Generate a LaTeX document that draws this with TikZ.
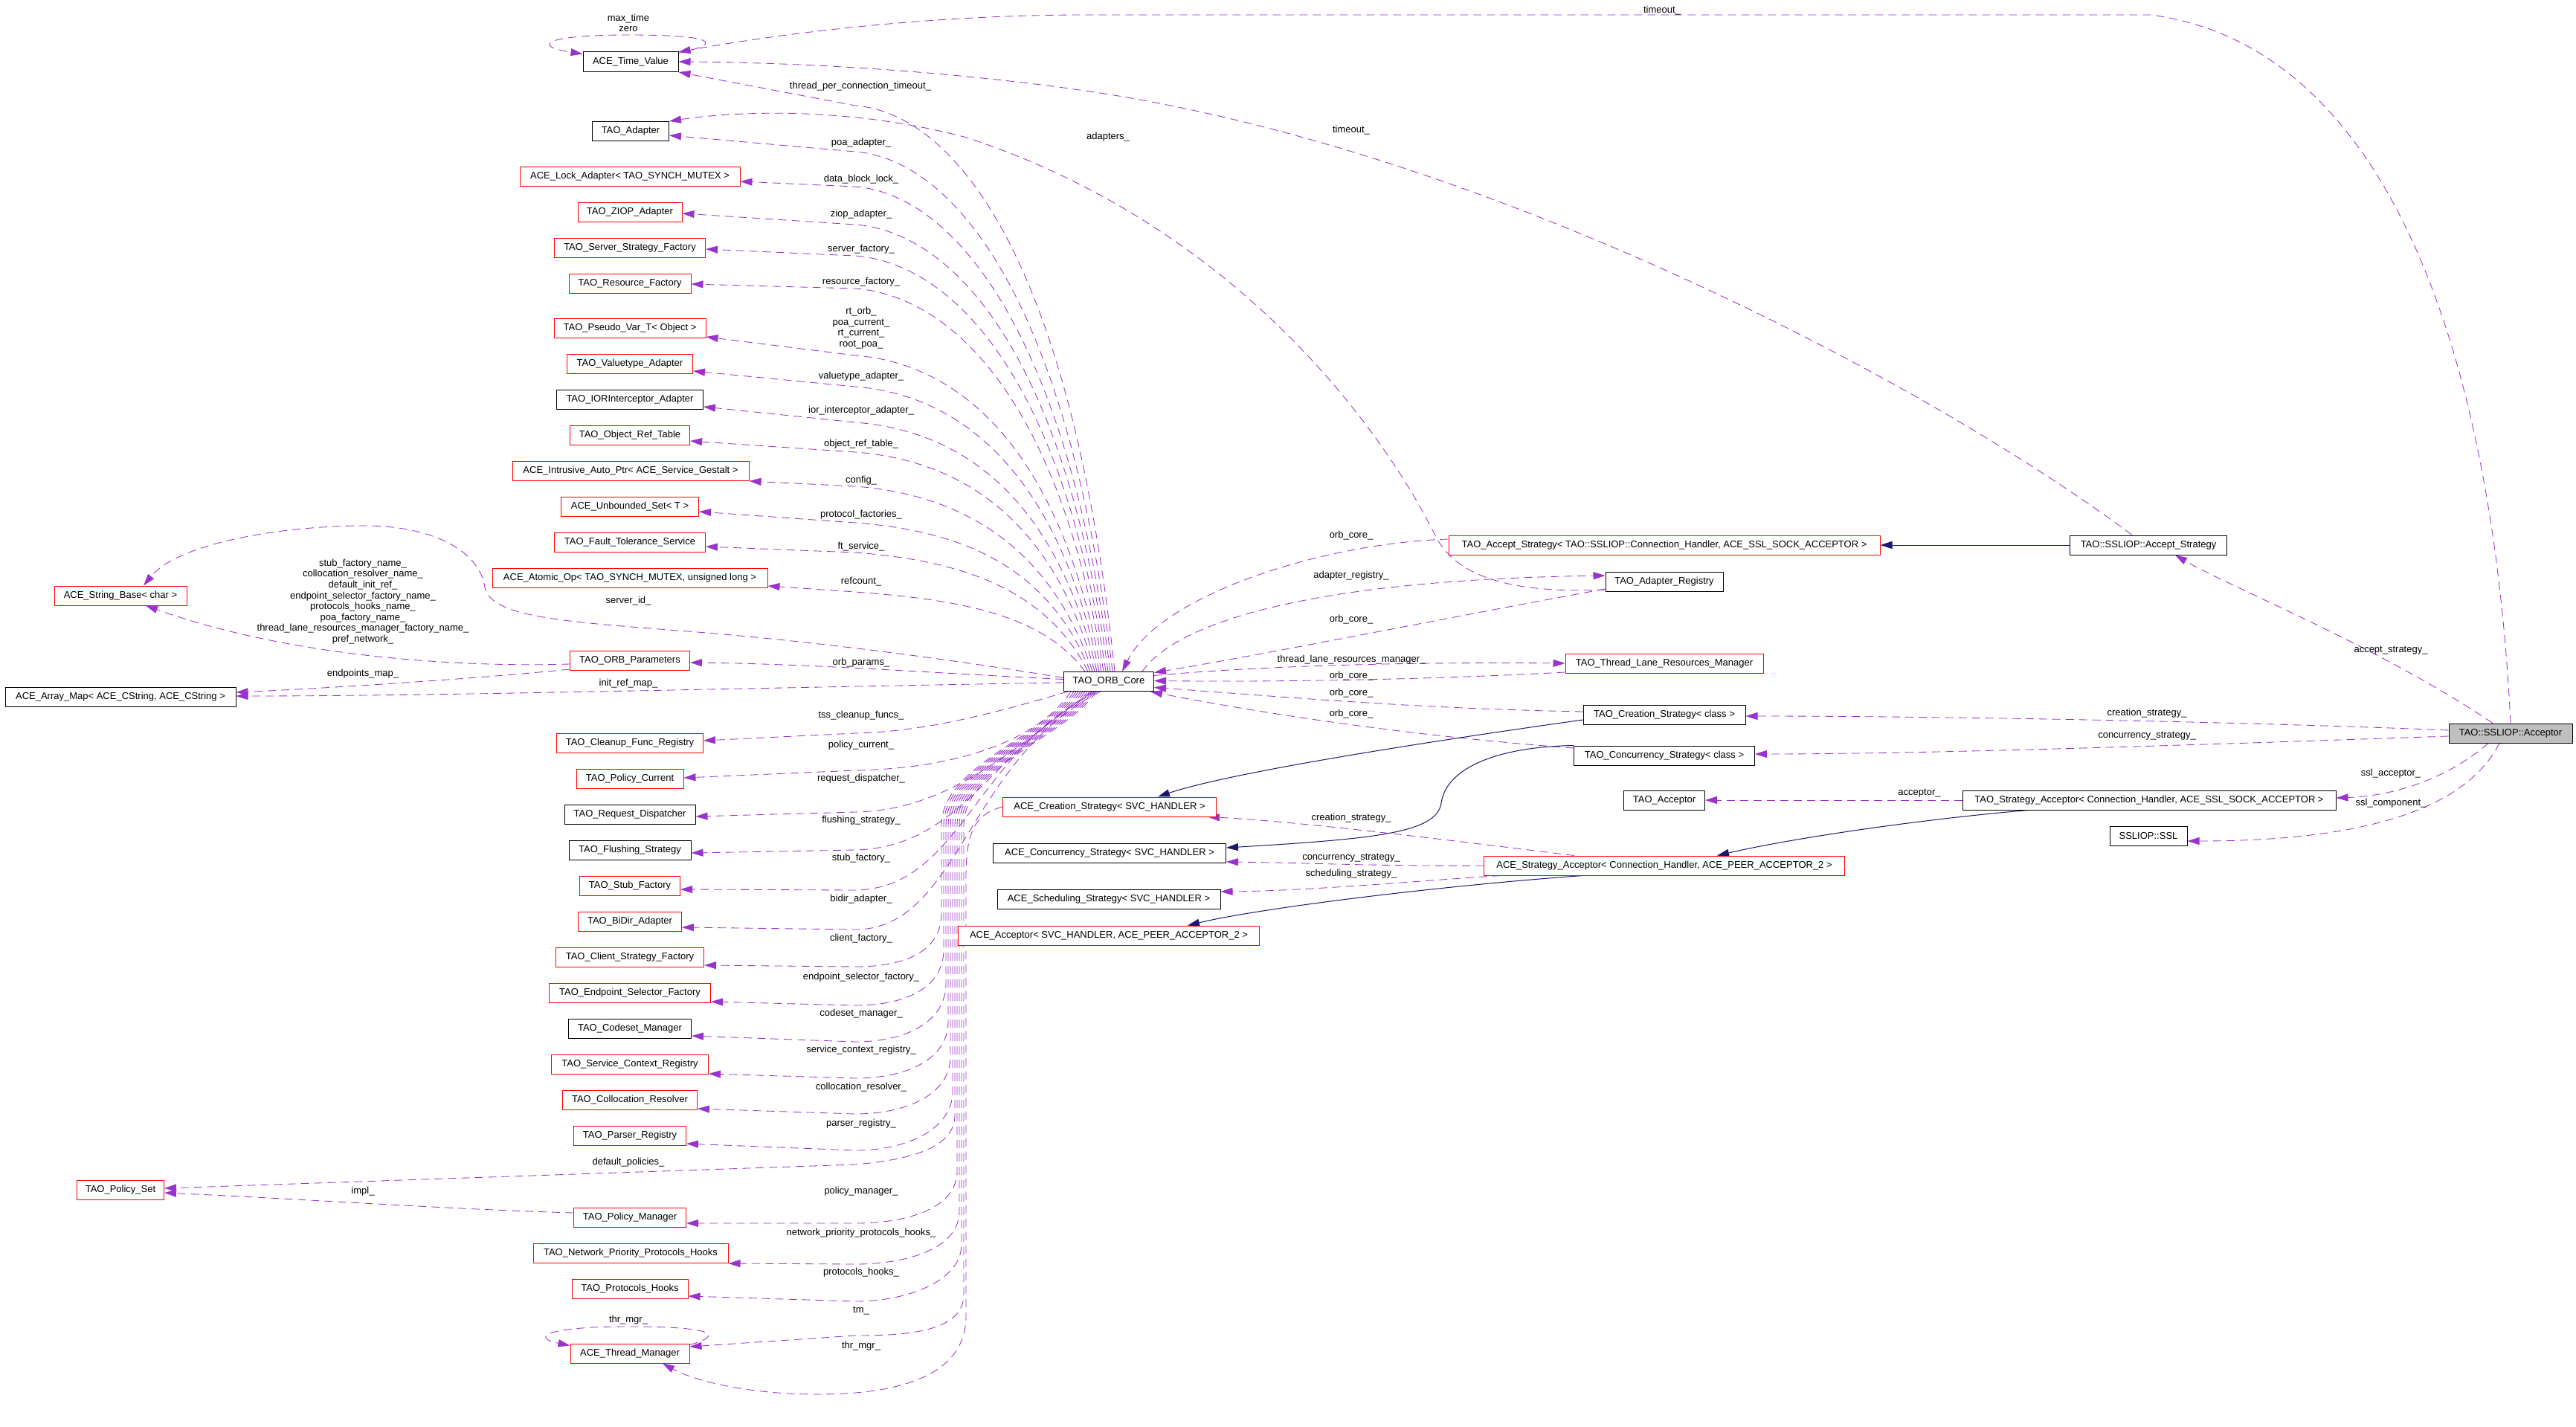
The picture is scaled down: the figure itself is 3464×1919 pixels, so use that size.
\documentclass[tikz,border=0pt]{standalone}
\usepackage{fontspec}
\setmainfont{Liberation Sans}
\usetikzlibrary{arrows.meta,backgrounds}
\definecolor{purp}{HTML}{9A32CD}
\definecolor{navyb}{HTML}{191970}
\definecolor{greyf}{HTML}{BFBFBF}
\newcommand\dxfont{\fontsize{13}{14.6}\selectfont}
% upper edges: target, arrow y, yshift, xshift on orb, offset at x=1150
\newcommand\dxUp[5]{\draw[mem] ([xshift=#4pt]orb.north west) .. controls ({1371+#4},{#2+0.3*(904-#2)}) and (1280,{#2+#5+10}) .. (1150,{#2+#5}) -- ([yshift=#3pt]#1.east);}
% lower edges: target, arrow y, yshift, xshift on orb, bundle x, offset at x=1150
\newcommand\dxLo[6]{\draw[mem] ([xshift=#4pt]orb.south west) .. controls ({1391+#4},990) and (#5,1030) .. (#5,1110) -- (#5,{#2-70}) .. controls (#5,{#2-20}) and (1220,{#2+#6}) .. (1150,{#2+#6}) -- ([yshift=#3pt]#1.east);}
\begin{document}
\begin{tikzpicture}[x=1pt,y=-1pt,
  cls/.style={draw=red, line width=1pt, minimum height=26pt, inner sep=0pt, font=\dxfont, fill=white},
  blk/.style={cls, draw=black},
  mainc/.style={cls, draw=black, fill=greyf},
  mem/.style={draw=purp, dash pattern=on 11pt off 7pt, line width=0.85pt, -{Triangle[length=16pt,width=10pt]}},
  inh/.style={draw=navyb, line width=1pt, -{Triangle[length=16pt,width=10pt]}},
  lbl/.style={font=\dxfont, inner sep=0pt, align=center}]
\useasboundingbox (0,0) rectangle (3464,1919);
% left column
\node[blk, minimum width=128pt] (tv) at (848,83) {ACE\_Time\_Value};
\node[blk, minimum width=103pt] (adp) at (848,176) {TAO\_Adapter};
\node[cls, minimum width=296pt] (lock) at (847,237) {ACE\_Lock\_Adapter< TAO\_SYNCH\_MUTEX >};
\node[cls, minimum width=140pt] (ziop) at (847,285) {TAO\_ZIOP\_Adapter};
\node[cls, minimum width=203pt] (ssf) at (847,333) {TAO\_Server\_Strategy\_Factory};
\node[cls, minimum width=164pt] (rf) at (847,381) {TAO\_Resource\_Factory};
\node[cls, minimum width=204pt] (pv) at (847,441) {TAO\_Pseudo\_Var\_T< Object >};
\node[cls, minimum width=169pt] (vta) at (847,489) {TAO\_Valuetype\_Adapter};
\node[blk, minimum width=197pt] (iori) at (847,537) {TAO\_IORInterceptor\_Adapter};
\node[cls, minimum width=161pt] (ort) at (847,585) {TAO\_Object\_Ref\_Table};
\node[cls, minimum width=318pt] (iap) at (848,633) {ACE\_Intrusive\_Auto\_Ptr< ACE\_Service\_Gestalt >};
\node[cls, minimum width=185pt] (us) at (847,681) {ACE\_Unbounded\_Set< T >};
\node[cls, minimum width=203pt] (fts) at (847,729) {TAO\_Fault\_Tolerance\_Service};
\node[cls, minimum width=370pt] (ao) at (847,777) {ACE\_Atomic\_Op< TAO\_SYNCH\_MUTEX, unsigned long >};
\node[cls, minimum width=178pt] (sb) at (162,801) {ACE\_String\_Base< char >};
\node[cls, minimum width=161pt] (op) at (847,888) {TAO\_ORB\_Parameters};
\node[blk, minimum width=310pt] (am) at (162,937) {ACE\_Array\_Map< ACE\_CString, ACE\_CString >};
\node[cls, minimum width=197pt] (cfr) at (847,999) {TAO\_Cleanup\_Func\_Registry};
\node[cls, minimum width=144pt] (pc) at (847,1047) {TAO\_Policy\_Current};
\node[blk, minimum width=176pt] (rd) at (847,1095) {TAO\_Request\_Dispatcher};
\node[blk, minimum width=164pt] (fs) at (847,1143) {TAO\_Flushing\_Strategy};
\node[cls, minimum width=135pt] (sf) at (847,1191) {TAO\_Stub\_Factory};
\node[cls, minimum width=139pt] (bda) at (847,1239) {TAO\_BiDir\_Adapter};
\node[cls, minimum width=199pt] (csf) at (847,1287) {TAO\_Client\_Strategy\_Factory};
\node[cls, minimum width=217pt] (esf) at (847,1335) {TAO\_Endpoint\_Selector\_Factory};
\node[blk, minimum width=165pt] (cm) at (847,1383) {TAO\_Codeset\_Manager};
\node[cls, minimum width=211pt] (scr) at (847,1431) {TAO\_Service\_Context\_Registry};
\node[cls, minimum width=181pt] (cr) at (847,1479) {TAO\_Collocation\_Resolver};
\node[cls, minimum width=151pt] (pr) at (847,1527) {TAO\_Parser\_Registry};
\node[cls, minimum width=117pt] (ps) at (162,1600) {TAO\_Policy\_Set};
\node[cls, minimum width=151pt] (pm) at (847,1637) {TAO\_Policy\_Manager};
\node[cls, minimum width=262pt] (npph) at (848,1685) {TAO\_Network\_Priority\_Protocols\_Hooks};
\node[cls, minimum width=156pt] (ph) at (847,1733) {TAO\_Protocols\_Hooks};
\node[cls, minimum width=160pt] (tm) at (847,1820) {ACE\_Thread\_Manager};
% middle
\node[blk, minimum width=121pt] (orb) at (1491,916.5) {TAO\_ORB\_Core};
\node[cls, minimum width=287pt] (acs) at (1492,1085) {ACE\_Creation\_Strategy< SVC\_HANDLER >};
\node[blk, minimum width=313pt] (accs) at (1492,1147) {ACE\_Concurrency\_Strategy< SVC\_HANDLER >};
\node[blk, minimum width=300pt] (ass) at (1491,1209) {ACE\_Scheduling\_Strategy< SVC\_HANDLER >};
\node[cls, minimum width=405pt] (aa) at (1491,1258) {ACE\_Acceptor< SVC\_HANDLER, ACE\_PEER\_ACCEPTOR\_2 >};
% right middle
\node[cls, minimum width=580pt] (tas) at (2238,733) {TAO\_Accept\_Strategy< TAO::SSLIOP::Connection\_Handler, ACE\_SSL\_SOCK\_ACCEPTOR >};
\node[blk, minimum width=158pt] (ar) at (2238,782) {TAO\_Adapter\_Registry};
\node[cls, minimum width=266pt] (tlrm) at (2238,892) {TAO\_Thread\_Lane\_Resources\_Manager};
\node[blk, minimum width=218pt] (tcs) at (2238,961) {TAO\_Creation\_Strategy< class >};
\node[blk, minimum width=243pt] (tccs) at (2238,1016) {TAO\_Concurrency\_Strategy< class >};
\node[blk, minimum width=109pt] (tacc) at (2238,1076) {TAO\_Acceptor};
\node[cls, minimum width=485pt] (asa) at (2238,1164) {ACE\_Strategy\_Acceptor< Connection\_Handler, ACE\_PEER\_ACCEPTOR\_2 >};
% right
\node[blk, minimum width=211pt] (sas) at (2889,733) {TAO::SSLIOP::Accept\_Strategy};
\node[blk, minimum width=502pt] (tsa) at (2890,1076) {TAO\_Strategy\_Acceptor< Connection\_Handler, ACE\_SSL\_SOCK\_ACCEPTOR >};
\node[blk, minimum width=104pt] (ssl) at (2889,1124) {SSLIOP::SSL};
\node[mainc, minimum width=166pt] (acc) at (3376,986) {TAO::SSLIOP::Acceptor};
% labels
\node[lbl] (l1) at (845,31) {max\_time\\zero};
\node[lbl] (l2) at (1157,116) {thread\_per\_connection\_timeout\_};
\node[lbl] (l3) at (1158,192) {poa\_adapter\_};
\node[lbl] (l4) at (1158,241) {data\_block\_lock\_};
\node[lbl] (l5) at (1158,288) {ziop\_adapter\_};
\node[lbl] (l6) at (1158,335) {server\_factory\_};
\node[lbl] (l7) at (1158,379) {resource\_factory\_};
\node[lbl] (l8) at (1158,441) {rt\_orb\_\\poa\_current\_\\rt\_current\_\\root\_poa\_};
\node[lbl] (l9) at (1158,506) {valuetype\_adapter\_};
\node[lbl] (l10) at (1158,552) {ior\_interceptor\_adapter\_};
\node[lbl] (l11) at (1158,597) {object\_ref\_table\_};
\node[lbl] (l12) at (1158,646) {config\_};
\node[lbl] (l13) at (1158,692) {protocol\_factories\_};
\node[lbl] (l14) at (1158,735) {ft\_service\_};
\node[lbl] (l15) at (1158,782) {refcount\_};
\node[lbl] (l16) at (845,808) {server\_id\_};
\node[lbl] (l17) at (488,809) {stub\_factory\_name\_\\collocation\_resolver\_name\_\\default\_init\_ref\_\\endpoint\_selector\_factory\_name\_\\protocols\_hooks\_name\_\\poa\_factory\_name\_\\thread\_lane\_resources\_manager\_factory\_name\_\\pref\_network\_};
\node[lbl] (l18) at (1158,891) {orb\_params\_};
\node[lbl] (l19) at (488,906) {endpoints\_map\_};
\node[lbl] (l20) at (845,919) {init\_ref\_map\_};
\node[lbl] (l21) at (1158,962) {tss\_cleanup\_funcs\_};
\node[lbl] (l22) at (1158,1002) {policy\_current\_};
\node[lbl] (l23) at (1158,1047) {request\_dispatcher\_};
\node[lbl] (l24) at (1158,1103) {flushing\_strategy\_};
\node[lbl] (l25) at (1158,1154) {stub\_factory\_};
\node[lbl] (l26) at (1158,1209) {bidir\_adapter\_};
\node[lbl] (l27) at (1158,1262) {client\_factory\_};
\node[lbl] (l28) at (1158,1314) {endpoint\_selector\_factory\_};
\node[lbl] (l29) at (1158,1363) {codeset\_manager\_};
\node[lbl] (l30) at (1158,1412) {service\_context\_registry\_};
\node[lbl] (l31) at (1158,1462) {collocation\_resolver\_};
\node[lbl] (l32) at (1158,1511) {parser\_registry\_};
\node[lbl] (l33) at (845,1563) {default\_policies\_};
\node[lbl] (l34) at (488,1602) {impl\_};
\node[lbl] (l35) at (1158,1602) {policy\_manager\_};
\node[lbl] (l36) at (1158,1658) {network\_priority\_protocols\_hooks\_};
\node[lbl] (l37) at (1158,1711) {protocols\_hooks\_};
\node[lbl] (l38) at (845,1775) {thr\_mgr\_};
\node[lbl] (l39) at (1158,1763) {tm\_};
\node[lbl] (l40) at (1158,1810) {thr\_mgr\_};
\node[lbl] (l41) at (1490,184) {adapters\_};
\node[lbl] (l42) at (1817,175) {timeout\_};
\node[lbl] (l43) at (2235,14) {timeout\_};
\node[lbl] (l44) at (1817,720) {orb\_core\_};
\node[lbl] (l45) at (1817,774) {adapter\_registry\_};
\node[lbl] (l46) at (1817,833) {orb\_core\_};
\node[lbl] (l47) at (1817,887) {thread\_lane\_resources\_manager\_};
\node[lbl] (l48) at (1817,909) {orb\_core\_};
\node[lbl] (l49) at (1817,932) {orb\_core\_};
\node[lbl] (l50) at (1817,960) {orb\_core\_};
\node[lbl] (l51) at (1817,1100) {creation\_strategy\_};
\node[lbl] (l52) at (1817,1154) {concurrency\_strategy\_};
\node[lbl] (l53) at (1817,1175) {scheduling\_strategy\_};
\node[lbl] (l54) at (3215,875) {accept\_strategy\_};
\node[lbl] (l55) at (2887,959) {creation\_strategy\_};
\node[lbl] (l56) at (2887,990) {concurrency\_strategy\_};
\node[lbl] (l57) at (3215,1040) {ssl\_acceptor\_};
\node[lbl] (l58) at (3215,1080) {ssl\_component\_};
\node[lbl] (l59) at (2581,1067) {acceptor\_};
\begin{scope}[on background layer]
\fill[white] (0,0) rectangle (3464,1919);
% self loops
\draw[mem] ([yshift=-2pt]tv.north east) .. controls (975,58) and (960,47) .. (845,47) .. controls (730,47) and (715,62) .. ([yshift=-3pt]tv.north west);
\draw[mem] ([yshift=-2pt]tm.north east) .. controls (975,1795) and (960,1784) .. (845,1784) .. controls (730,1784) and (715,1799) .. ([yshift=-3pt]tm.north west);
% upper-left members of ORB core
\dxUp{tv}{97}{-14}{69}{45}
\dxUp{adp}{182}{-6}{66}{22}
\dxUp{lock}{244}{-7}{63}{7}
\dxUp{ziop}{287}{-2}{60}{15}
\dxUp{ssf}{335}{-2}{57}{9}
\dxUp{rf}{382}{-1}{54}{6}
\dxUp{pv}{453}{-12}{51}{25}
\dxUp{vta}{499}{-10}{48}{21}
\dxUp{iori}{547}{-10}{45}{21}
\dxUp{ort}{593}{-8}{42}{15}
\dxUp{iap}{647}{-14}{39}{7}
\dxUp{us}{688}{-7}{36}{15}
\dxUp{fts}{735}{-6}{33}{8}
\dxUp{ao}{788}{-11}{29}{8}
% near lower members
\draw[mem] ([xshift=6pt]orb.south west) .. controls (1350,955) and (1250,984) .. (1150,986) -- ([yshift=3pt]cfr.east);
\draw[mem] ([xshift=10pt]orb.south west) .. controls (1400,990) and (1300,1033) .. (1150,1036) -- ([yshift=1pt]pc.east);
\draw[mem] ([xshift=38pt]orb.south west) .. controls (1370,1000) and (1280,1090) .. (1150,1092) -- ([yshift=-3pt]rd.east);
\draw[mem] ([xshift=42pt]orb.south west) .. controls (1340,1000) and (1295,1140) .. (1150,1143) -- ([yshift=-4pt]fs.east);
\draw[mem] ([xshift=46pt]orb.south west) .. controls (1310,1010) and (1292,1195) .. (1150,1197) -- ([yshift=-5pt]sf.east);
\draw[mem] ([xshift=50pt]orb.south west) .. controls (1300,1020) and (1290,1250) .. (1150,1250) -- ([yshift=-8pt]bda.east);
% bundle lower members
\dxLo{csf}{1298}{-11}{14}{1266}{2}
\dxLo{esf}{1347}{-12}{17}{1269}{5}
\dxLo{cm}{1393}{-10}{20}{1272}{8}
\dxLo{scr}{1444}{-13}{23}{1275}{6}
\dxLo{cr}{1491}{-12}{26}{1278}{7}
\dxLo{pr}{1538}{-11}{29}{1281}{9}
\draw[mem] ([xshift=32pt]orb.south west) .. controls (1423,990) and (1284,1030) .. (1284,1110) -- (1284,1500) .. controls (1284,1545) and (1220,1560) .. (1150,1566) -- ([yshift=2pt]ps.east);
\dxLo{pm}{1645}{-8}{35}{1287}{0}
\dxLo{npph}{1699}{-14}{38}{1290}{1}
\dxLo{ph}{1743}{-10}{41}{1293}{7}
\dxLo{tm}{1811}{9}{44}{1296}{-15}
\draw[mem] (acs.west) .. controls (1310,1095) and (1299,1120) .. (1299,1180) -- (1299,1770) .. controls (1299,1845) and (1220,1875) .. (1100,1875) .. controls (1000,1875) and (930,1855) .. ([xshift=44pt]tm.south);
\draw[mem] ([yshift=6pt]pm.west) .. controls (600,1626) and (400,1612) .. ([yshift=-4pt]ps.east);
% left side
\draw[mem] ([yshift=-5pt]op.west) .. controls (600,898) and (380,880) .. ([xshift=34pt]sb.south);
\draw[mem] ([yshift=5pt]orb.west) .. controls (1300,890) and (1100,862) .. (912,848) .. controls (760,836) and (660,830) .. (652,790) .. controls (645,740) and (580,707) .. (491,707) .. controls (380,707) and (240,730) .. ([xshift=31pt]sb.north);
\draw[mem] ([yshift=3pt]orb.west) .. controls (1250,905) and (1100,893) .. ([yshift=-3pt]op.east);
\draw[mem] ([yshift=-1.5pt]orb.west) .. controls (1000,925) and (600,936) .. ([yshift=1pt]am.east);
\draw[mem] ([yshift=-12pt]op.west) .. controls (650,912) and (450,925) .. ([yshift=6pt]am.east);
% right of orb core
\draw[mem] ([yshift=8pt]tas.west) .. controls (1780,730) and (1560,800) .. ([xshift=18pt]orb.north);
\draw[mem] ([xshift=45pt]orb.north) .. controls (1580,840) and (1750,780) .. ([yshift=8pt]ar.west);
\draw[mem] ([yshift=-10pt]ar.west) .. controls (1950,830) and (1700,880) .. ([yshift=12pt]orb.east);
\draw[mem] ([yshift=8pt]orb.east) .. controls (1700,895) and (1900,890) .. (tlrm.west);
\draw[mem] ([yshift=-12pt]tlrm.west) .. controls (1900,915) and (1700,917) .. ([yshift=1pt]orb.east);
\draw[mem] ([yshift=4pt]tcs.west) .. controls (1900,953) and (1700,935) .. ([yshift=-8pt]orb.east);
\draw[mem] ([yshift=10pt]tccs.west) .. controls (1900,990) and (1700,960) .. ([xshift=-5pt]orb.south east);
\draw[mem] ([yshift=-11pt]ar.west) .. controls (2000,800) and (1950,760) .. (1930,720) .. controls (1850,560) and (1650,300) .. (1300,185) .. controls (1150,145) and (1000,148) .. ([yshift=13pt]adp.east);
% inheritance
\draw[inh] (sas.west) -- (tas.east);
\draw[inh] ([yshift=-7pt]tcs.west) .. controls (1900,1000) and (1650,1040) .. ([xshift=65pt]acs.north);
\draw[inh] (tccs.north west) .. controls (2020,1004) and (1945,1030) .. (1938,1080) .. controls (1932,1120) and (1850,1128) .. ([yshift=7pt]accs.east);
\draw[inh] ([xshift=-162pt]tsa.south) .. controls (2600,1100) and (2420,1125) .. ([xshift=71pt]asa.north);
\draw[inh] ([xshift=-109pt]asa.south) .. controls (1950,1190) and (1700,1220) .. ([xshift=106pt]aa.north);
% strategy acceptor members
\draw[mem] ([xshift=-121pt]asa.north) .. controls (1950,1130) and (1750,1105) .. ([xshift=132pt]acs.south);
\draw[mem] (asa.west) .. controls (1850,1165) and (1750,1160) .. ([yshift=-12pt]accs.east);
\draw[mem] ([xshift=-220pt]asa.south) .. controls (1900,1185) and (1760,1198) .. ([yshift=10pt]ass.east);
% SSLIOP acceptor members
\draw[mem] (acc.north) .. controls (3350,450) and (3200,60) .. (2892,20) -- (1459,20) .. controls (1250,20) and (1050,45) .. ([yshift=13pt]tv.east);
\draw[mem] ([xshift=-22pt]sas.north) .. controls (2600,520) and (2000,200) .. (1459,122) .. controls (1250,92) and (1050,84) .. (tv.east);
\draw[mem] ([xshift=-24pt]acc.north) .. controls (3200,870) and (3000,790) .. ([xshift=36pt]sas.south);
\draw[mem] ([yshift=4pt]acc.west) .. controls (3000,970) and (2600,963) .. ([yshift=-2pt]tcs.east);
\draw[mem] ([yshift=-4pt]acc.west) .. controls (3000,1000) and (2600,1014) .. ([yshift=2pt]tccs.east);
\draw[mem] ([xshift=-30pt]acc.south) .. controls (3300,1040) and (3230,1070) .. ([yshift=3pt]tsa.east);
\draw[mem] ([xshift=-15pt]acc.south) .. controls (3320,1080) and (3200,1131) .. ([yshift=-7pt]ssl.east);
\draw[mem] (tsa.west) -- (tacc.east);
\end{scope}
\end{tikzpicture}
\end{document}
